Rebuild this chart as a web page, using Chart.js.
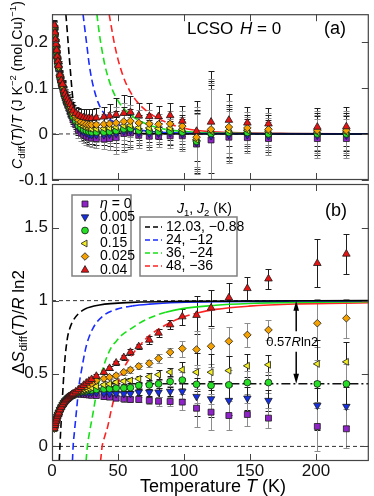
<!DOCTYPE html>
<html>
<head>
<meta charset="utf-8">
<script src="https://cdn.jsdelivr.net/npm/chart.js@4.4.1/dist/chart.umd.min.js"></script>
<style>
html, body { margin: 0; padding: 0; background: #fff; }
#wrap { position: relative; width: 374px; height: 496px; overflow: hidden; }
canvas { position: absolute; left: 0; }
#ca { top: 0; }
#cb { top: 168px; }
</style>
</head>
<body>
<div id="wrap">
  <canvas id="ca" width="374" height="200"></canvas>
  <canvas id="cb" width="374" height="328"></canvas>
</div>
<script>
// temperatures of the measured points (K)
const temps = [1.8, 2.2, 2.6, 3, 3.5, 4, 4.5, 5, 6, 7, 8, 9, 10, 11, 12, 13, 14, 15, 16,
  18, 20, 22, 24, 26, 28, 30, 33.6, 39.3, 43.6, 48.6, 54.4, 59.4, 65.7, 73.7, 80.7, 89.5, 98.7,
  109.5, 120.5, 134, 148, 164, 201, 223];

// (a) C_diff(T)/T  for eta = 0, 0.005, 0.01, 0.15, 0.025, 0.04
const cEta0 = [.230,.214,.200,.189,.176,.163,.152,.142,.123,.110,.101,.087,.078,.069,.062,.055,.048,.039,.031,
  .020,.008,.002,-.002,-.005,-.007,-.009,-.010,-.011,-.010,-.008,.001,.002,-.003,-.005,-.005,-.004,-.004,
  -.022,-.013,-.007,-.008,-.010,-.010,-.010];
const cEta005 = [.231,.215,.201,.190,.177,.164,.153,.143,.124,.111,.102,.088,.079,.071,.064,.057,.050,.042,.034,
  .024,.013,.008,.004,.002,-.001,-.002,-.002,-.002,-.001,.001,.006,.007,.002,.001,.001,.002,.000,
  -.019,-.004,-.002,-.002,-.004,-.003,-.003];
const cEta01 = [.232,.216,.202,.191,.178,.165,.154,.144,.125,.112,.103,.089,.081,.073,.066,.059,.053,.045,.037,
  .028,.018,.013,.009,.007,.005,.004,.004,.004,.005,.007,.011,.012,.007,.006,.005,.006,.004,
  -.016,.001,.003,.003,.000,.000,.000];
const cEta015 = [.233,.217,.203,.192,.179,.166,.155,.145,.126,.113,.104,.091,.083,.075,.069,.062,.056,.049,.041,
  .033,.024,.019,.016,.013,.012,.011,.011,.012,.013,.015,.018,.019,.014,.013,.012,.013,.010,
  -.012,.006,.007,.008,.006,.004,.004];
const cEta025 = [.234,.218,.204,.193,.180,.167,.156,.146,.127,.114,.105,.092,.085,.077,.071,.065,.059,.052,.045,
  .038,.030,.026,.023,.021,.020,.020,.020,.021,.022,.024,.027,.028,.024,.022,.021,.022,.017,
  -.007,.010,.015,.013,.010,.008,.008];
const cEta04 = [.236,.220,.205,.195,.182,.168,.158,.148,.128,.116,.108,.094,.087,.080,.075,.069,.064,.057,.050,
  .045,.041,.038,.036,.035,.034,.034,.035,.037,.039,.042,.045,.047,.040,.038,.038,.040,.028,
  .006,.026,.030,.024,.022,.015,.016];
const cErr = [.012,.012,.012,.012,.011,.011,.010,.010,.010,.010,.010,.010,.010,.010,.011,.011,.012,.012,.013,
  .014,.016,.017,.018,.019,.020,.020,.021,.022,.025,.035,.040,.035,.027,.030,.023,.027,.032,
  .065,.110,.056,.034,.035,.042,.042];

// (b) Delta S_diff(T)/R ln2
const sEta0 = [.124,.144,.159,.174,.189,.204,.217,.229,.251,.269,.285,.299,.311,.320,.329,.337,.344,.349,.352,
  .359,.360,.358,.357,.355,.353,.351,.349,.342,.338,.331,.326,.322,.322,.315,.310,.308,.304,
  .262,.235,.212,.219,.194,.137,.121];
const sEta005 = [.125,.145,.160,.175,.190,.205,.218,.230,.252,.270,.286,.300,.312,.321,.330,.338,.345,.350,.355,
  .366,.368,.369,.370,.370,.370,.370,.368,.364,.362,.361,.361,.362,.372,.372,.372,.377,.377,
  .342,.326,.315,.331,.315,.281,.274];
const sEta01 = [.125,.145,.160,.175,.190,.205,.218,.230,.252,.270,.286,.300,.312,.322,.331,.339,.346,.351,.356,
  .368,.372,.376,.379,.382,.385,.387,.390,.394,.396,.400,.401,.403,.418,.422,.429,.445,.455,
  .426,.418,.422,.438,.438,.429,.429];
const sEta015 = [.125,.145,.160,.175,.190,.205,.218,.230,.252,.270,.286,.300,.312,.322,.331,.339,.346,.352,.358,
  .370,.376,.382,.388,.393,.398,.403,.412,.423,.429,.440,.447,.452,.464,.479,.492,.510,.526,
  .509,.509,.520,.553,.560,.566,.580];
const sEta025 = [.125,.145,.160,.175,.190,.205,.218,.230,.252,.270,.286,.300,.313,.323,.332,.340,.347,.354,.360,
  .372,.383,.393,.403,.413,.422,.432,.452,.466,.475,.486,.509,.525,.550,.570,.603,.646,.671,
  .665,.687,.721,.765,.799,.845,.879];
const sEta04 = [.125,.145,.160,.175,.190,.205,.218,.230,.252,.270,.287,.301,.314,.325,.334,.342,.349,.356,.362,
  .375,.390,.405,.420,.435,.448,.460,.482,.509,.536,.573,.610,.646,.685,.730,.778,.835,.890,
  .900,.950,1.020,1.084,1.150,1.256,1.320];
const sErr = [.008,.008,.008,.008,.008,.008,.008,.008,.008,.008,.008,.008,.008,.008,.008,.008,.008,.008,.008,
  .010,.010,.010,.010,.010,.010,.010,.012,.014,.015,.016,.018,.020,.020,.025,.030,.030,.055,
  .130,.125,.100,.080,.070,.165,.135];

// J1-J2 model curves, panel (a)
const aBlackT = [10.5, 11.5, 12.3, 13, 14, 15, 16, 18, 20, 25, 30, 40, 60, 100, 240];
const aBlackV = [0.26, 0.225, 0.195, 0.17, 0.135, 0.1, 0.072, 0.042, 0.027, 0.011, 0.005, 0.002, 0.001, 0, 0];
const aBlueT = [23.5, 25, 26.5, 28, 30, 32.5, 35, 37.5, 42, 46, 53, 61, 73, 86, 110, 240];
const aBlueV = [0.26, 0.225, 0.19, 0.155, 0.12, 0.09, 0.068, 0.053, 0.036, 0.027, 0.017, 0.011, 0.006, 0.003, 0.001, 0];
const aGreenT = [34, 36, 38, 40, 43, 46, 50, 54, 61, 66, 74, 86, 111, 150, 240];
const aGreenV = [0.26, 0.215, 0.18, 0.15, 0.118, 0.094, 0.072, 0.056, 0.038, 0.029, 0.019, 0.01, 0.003, 0.001, 0];
const aRedT = [43.3, 45, 47, 50, 53, 56, 60, 65, 70, 75, 81, 90, 101, 120, 136, 180, 240];
const aRedV = [0.26, 0.232, 0.2, 0.162, 0.133, 0.11, 0.088, 0.068, 0.054, 0.043, 0.033, 0.021, 0.012, 0.005, 0.003, 0.001, 0];

// J1-J2 model curves, panel (b)
const bBlackT = [5.5, 6, 7, 8, 9, 10, 11, 12, 13.5, 16, 20, 25, 36, 61, 100, 240];
const bBlackV = [-0.1, 0, 0.18, 0.35, 0.5, 0.62, 0.7, 0.76, 0.81, 0.863, 0.91, 0.943, 0.97, 0.988, 0.995, 1.0];
const bBlueT = [15.5, 16, 17, 18.5, 20.5, 22.3, 26, 31, 38.6, 48.6, 61, 73.7, 96, 130, 180, 240];
const bBlueV = [-0.1, 0, 0.1, 0.24, 0.42, 0.52, 0.69, 0.81, 0.895, 0.94, 0.964, 0.976, 0.987, 0.993, 0.997, 0.999];
const bGreenT = [25.8, 26.8, 28.5, 31, 34, 38, 44.9, 48.6, 52.4, 58.6, 71.2, 86.2, 98.7, 124, 149, 184, 240];
const bGreenV = [-0.1, 0, 0.1, 0.224, 0.38, 0.52, 0.68, 0.72, 0.76, 0.8, 0.87, 0.92, 0.945, 0.968, 0.98, 0.988, 0.993];
const bRedT = [36.8, 38, 40, 42.3, 44.9, 48.6, 53.6, 60, 66.2, 73.7, 80, 88.7, 98.7, 110, 124, 149, 184, 240];
const bRedV = [-0.1, 0, 0.07, 0.14, 0.25, 0.384, 0.52, 0.62, 0.69, 0.76, 0.8, 0.845, 0.885, 0.915, 0.94, 0.962, 0.977, 0.985];
const dashUntil = [25, 55, 80, 100];   // model curves are dashed below these T

const etaLabels = ['0', '0.005', '0.01', '0.15', '0.025', '0.04'];
const jLabels = ['12.03, \u22120.88', '24, \u221212', '36, \u221224', '48, \u221236'];
const xTickLabels = [0, 50, 100, 150, 200];
const yTicksA = [-0.1, 0, 0.1, 0.2];
const yTicksB = [0, 0.5, 1, 1.5];
const refLinesB = [0, 1];
const plateau = 0.43, plateauFrom = 45;
const arrowT = 185, arrowUp = [0.79, 1.0], arrowDown = [0.65, 0.43];

const FONT = "'Liberation Sans Narrow', 'Liberation Sans', Arial, sans-serif";
Chart.defaults.font.family = FONT;
const TOP_B = 168;

const SER = [
  { color: '#8f22c8', style: 'rect', rot: 0, r: 4.2, err: '#8c8c8c' },
  { color: '#1530e6', style: 'triangle', rot: 180, r: 4.3, err: '#1e1e1e' },
  { color: '#25e025', style: 'circle', rot: 0, r: 3.4, err: '#8c8c8c' },
  { color: '#f2ee22', style: 'triangle', rot: 270, r: 4.0, err: '#1e1e1e' },
  { color: '#f5a200', style: 'rectRot', rot: 0, r: 3.8, err: '#8c8c8c' },
  { color: '#e81414', style: 'triangle', rot: 0, r: 4.4, err: '#1e1e1e' }
];
const LINECOL = ['#000000', '#1a2cff', '#18e018', '#ff2222'];

function rich(ctx, parts, x, y, size, align) {
  let w = 0;
  const items = parts.map(([t, s]) => {
    const small = s.includes('b') || s.includes('p');
    const fs = small ? size * 0.68 : size;
    const font = (s.includes('i') ? 'italic ' : '') + fs + 'px ' + FONT;
    ctx.font = font;
    const tw = ctx.measureText(t).width;
    w += tw;
    return { t, font, tw, dy: s.includes('b') ? size * 0.3 : s.includes('p') ? -size * 0.36 : 0 };
  });
  let cx = align === 'center' ? x - w / 2 : align === 'right' ? x - w : x;
  ctx.textBaseline = 'middle';
  ctx.textAlign = 'left';
  items.forEach(it => { ctx.font = it.font; ctx.fillText(it.t, cx, y + it.dy); cx += it.tw; });
}

function drawMark(ctx, style, rot, r, x, y) {
  ctx.beginPath();
  if (style === 'circle') ctx.arc(x, y, r, 0, Math.PI * 2);
  else if (style === 'rect') { const s = r * Math.SQRT1_2; ctx.rect(x - s, y - s, 2 * s, 2 * s); }
  else if (style === 'rectRot') { ctx.moveTo(x, y - r); ctx.lineTo(x + r, y); ctx.lineTo(x, y + r); ctx.lineTo(x - r, y); ctx.closePath(); }
  else {
    const a = rot * Math.PI / 180;
    for (let k = 0; k < 3; k++) {
      const b = a + k * 2 * Math.PI / 3;
      const px = x + Math.sin(b) * r, py = y - Math.cos(b) * r;
      if (k) ctx.lineTo(px, py); else ctx.moveTo(px, py);
    }
    ctx.closePath();
  }
  ctx.fill();
  ctx.stroke();
}

function isMaj(v, step) { return Math.abs(v / step - Math.round(v / step)) < 1e-6; }

function makeDecor(drawExtra, yMajor) {
  return {
    id: 'decor',
    beforeDatasetsDraw(chart) {
      const { ctx, chartArea: a, scales: { x, y } } = chart;
      ctx.save();
      ctx.beginPath();
      ctx.rect(a.left, a.top, a.right - a.left, a.bottom - a.top);
      ctx.clip();
      ctx.lineWidth = 1;
      chart.data.datasets.slice().reverse().forEach(ds => {
        if (!ds.err) return;
        ctx.strokeStyle = ds.errColor;
        ds.data.forEach((p, i) => {
          const e = ds.err[i];
          const px = Math.round(x.getPixelForValue(p.x)) + 0.5;
          const y1 = Math.round(y.getPixelForValue(p.y - e)) + 0.5;
          const y2 = Math.round(y.getPixelForValue(p.y + e)) + 0.5;
          ctx.beginPath();
          ctx.moveTo(px, y1); ctx.lineTo(px, y2);
          ctx.moveTo(px - 3, y1); ctx.lineTo(px + 3, y1);
          ctx.moveTo(px - 3, y2); ctx.lineTo(px + 3, y2);
          ctx.stroke();
        });
      });
      ctx.restore();
    },
    afterDatasetsDraw(chart) {
      const { ctx, chartArea: a, scales: { x, y } } = chart;
      ctx.save();
      ctx.strokeStyle = '#444';
      ctx.lineWidth = 1.2;
      ctx.strokeRect(a.left + 0.5, a.top + 0.5, a.right - a.left - 1, a.bottom - a.top - 1);
      ctx.lineWidth = 1;
      ctx.beginPath();
      x.ticks.forEach(t => {
        const p = Math.round(x.getPixelForValue(t.value)) + 0.5;
        const L = isMaj(t.value, 50) ? 7 : 4;
        ctx.moveTo(p, a.bottom); ctx.lineTo(p, a.bottom - L);
        ctx.moveTo(p, a.top); ctx.lineTo(p, a.top + L);
      });
      y.ticks.forEach(t => {
        const p = Math.round(y.getPixelForValue(t.value)) + 0.5;
        const L = isMaj(t.value, yMajor) ? 7 : 4;
        ctx.moveTo(a.left, p); ctx.lineTo(a.left + L, p);
        ctx.moveTo(a.right, p); ctx.lineTo(a.right - L, p);
      });
      ctx.stroke();
      ctx.restore();
      ctx.save();
      ctx.fillStyle = '#000';
      drawExtra(chart);
      ctx.restore();
    }
  };
}

function markerSets(vals, errs) {
  return vals.map((v, k) => ({
    data: temps.map((t, i) => ({ x: t, y: v[i] })),
    err: errs,
    errColor: SER[k].err,
    pointStyle: SER[k].style,
    rotation: SER[k].rot,
    pointRadius: SER[k].r,
    backgroundColor: SER[k].color,
    borderColor: '#1a1a1a',
    pointBorderWidth: 0.8,
    showLine: false,
    order: 6 - k
  }));
}

function curveSets(Ts, Vs) {
  return Ts.map((T, k) => ({
    data: T.map((t, i) => ({ x: t, y: Vs[k][i] })),
    showLine: true,
    pointRadius: 0,
    borderColor: LINECOL[k],
    borderWidth: 1.6,
    cubicInterpolationMode: 'monotone',
    segment: { borderDash: c => c.p0.parsed.x < dashUntil[k] ? [7, 4] : [] },
    order: 10 + k
  }));
}

function hline(v, from, dash, color, width) {
  return {
    data: [{ x: from, y: v }, { x: 240, y: v }],
    showLine: true, pointRadius: 0, borderColor: color, borderWidth: width,
    borderDash: dash, order: 20
  };
}

function makeChart(id, datasets, o) {
  return new Chart(document.getElementById(id), {
    type: 'scatter',
    data: { datasets },
    options: {
      responsive: false,
      animation: false,
      events: [],
      layout: { padding: { top: o.padTop, right: 2, left: 0, bottom: 0 } },
      plugins: { legend: { display: false }, tooltip: { enabled: false } },
      scales: {
        x: {
          type: 'linear', min: 0, max: 240,
          ticks: {
            stepSize: 10, autoSkip: false, maxRotation: 0, display: o.showX, padding: 0,
            color: '#111', font: { size: 17 },
            callback: v => xTickLabels.includes(v) ? String(v) : null
          },
          grid: { display: false, drawTicks: false },
          border: { display: false },
          afterFit: s => { s.height = o.xH; }
        },
        y: {
          type: 'linear', min: o.yMin, max: o.yMax,
          ticks: {
            stepSize: o.yStep, autoSkip: false, padding: 4, color: '#111', font: { size: 17 },
            callback: v => {
              const m = o.yLabels.find(l => Math.abs(l - v) < 1e-6);
              return m === undefined ? null : String(m);
            }
          },
          grid: { display: false, drawTicks: false },
          border: { display: false },
          afterFit: s => { s.width = 52; }
        }
      }
    },
    plugins: [makeDecor(o.draw, o.yMajor)]
  });
}

// panel (a)
makeChart('ca', [
  ...markerSets([cEta0, cEta005, cEta01, cEta015, cEta025, cEta04], cErr),
  ...curveSets([aBlackT, aBlueT, aGreenT, aRedT], [aBlackV, aBlueV, aGreenV, aRedV]),
  hline(0, 0, [4, 3], '#333', 1)
], {
  padTop: 1, xH: 20, showX: false, yMin: -0.1, yMax: 0.26, yStep: 0.02, yMajor: 0.1, yLabels: yTicksA,
  draw(chart) {
    const ctx = chart.ctx;
    rich(ctx, [['LCSO', 'n']], 187, 29, 17, 'left');
    rich(ctx, [['H', 'i'], [' = 0', 'n']], 240, 29, 17, 'left');
    rich(ctx, [['(a)', 'n']], 335, 29, 18, 'center');
    ctx.save();
    ctx.translate(18, 85);
    ctx.rotate(-Math.PI / 2);
    rich(ctx, [['C', 'i'], ['diff', 'b'], ['(', 'n'], ['T', 'i'], [')/', 'n'], ['T', 'i'], [' (J K', 'n'],
      ['\u22122', 'p'], [' (mol Cu)', 'n'], ['\u22121', 'p'], [')', 'n']], 0, 0, 14.2, 'center');
    ctx.restore();
  }
});

// panel (b)
makeChart('cb', [
  ...markerSets([sEta0, sEta005, sEta01, sEta015, sEta025, sEta04], sErr),
  ...curveSets([bBlackT, bBlueT, bGreenT, bRedT], [bBlackV, bBlueV, bGreenV, bRedV]),
  ...refLinesB.map(v => hline(v, 0, [4, 3], '#333', 1)),
  hline(plateau, plateauFrom, [9, 3, 2, 3], '#111', 1.4)
], {
  padTop: 16, xH: 35, showX: true, yMin: -0.1, yMax: 1.8, yStep: 0.1, yMajor: 0.5, yLabels: yTicksB,
  draw(chart) {
    const { ctx, scales: { x, y } } = chart;
    // arrows for 0.57 R ln2
    const ax = x.getPixelForValue(arrowT);
    ctx.strokeStyle = '#000';
    ctx.fillStyle = '#000';
    ctx.lineWidth = 1.5;
    [arrowUp, arrowDown].forEach(([v0, v1]) => {
      const y0 = y.getPixelForValue(v0), y1 = y.getPixelForValue(v1);
      const dir = Math.sign(y1 - y0);
      ctx.beginPath(); ctx.moveTo(ax, y0); ctx.lineTo(ax, y1 - dir * 8); ctx.stroke();
      ctx.beginPath(); ctx.moveTo(ax, y1); ctx.lineTo(ax - 2.8, y1 - dir * 10); ctx.lineTo(ax + 2.8, y1 - dir * 10);
      ctx.closePath(); ctx.fill();
    });
    rich(ctx, [['0.57', 'n'], ['R', 'i'], ['ln2', 'n']], x.getPixelForValue(182), y.getPixelForValue(0.715), 13, 'center');

    ctx.save();
    ctx.translate(0, -TOP_B);
    ctx.save();
    ctx.translate(19, 322);
    ctx.rotate(-Math.PI / 2);
    rich(ctx, [['\u0394', 'n'], ['S', 'i'], ['diff', 'b'], ['(', 'n'], ['T', 'i'], [')/', 'n'], ['R', 'i'], [' ln2', 'n']], 0, 0, 17, 'center');
    ctx.restore();
    rich(ctx, [['Temperature ', 'n'], ['T', 'i'], [' (K)', 'n']], 213, 487, 18, 'center');
    rich(ctx, [['(b)', 'n']], 336, 211, 18, 'center');

    // eta legend
    ctx.fillStyle = '#fff';
    ctx.fillRect(72, 195, 59, 81);
    ctx.strokeStyle = '#808080';
    ctx.lineWidth = 1.5;
    ctx.strokeRect(72, 195, 59, 81);
    const rows1 = [204, 217, 230.5, 243.5, 256.5, 270];
    SER.forEach((s, k) => {
      ctx.fillStyle = s.color;
      ctx.strokeStyle = '#1a1a1a';
      ctx.lineWidth = 0.8;
      drawMark(ctx, s.style, s.rot, s.r, 85, rows1[k]);
      ctx.fillStyle = '#000';
      rich(ctx, k === 0 ? [['\u03b7', 'i'], [' = ' + etaLabels[0], 'n']] : [[etaLabels[k], 'n']], 100, rows1[k], 14, 'left');
    });

    // J1, J2 legend
    ctx.fillStyle = '#000';
    rich(ctx, [['J', 'i'], ['1', 'b'], [', ', 'n'], ['J', 'i'], ['2', 'b'], [' (K)', 'n']], 177, 209, 14, 'left');
    ctx.fillStyle = '#fff';
    ctx.fillRect(140, 217, 97, 59);
    ctx.strokeStyle = '#808080';
    ctx.lineWidth = 1.5;
    ctx.strokeRect(140, 217, 97, 59);
    const rows2 = [227, 240, 253, 266];
    jLabels.forEach((lab, k) => {
      ctx.strokeStyle = LINECOL[k];
      ctx.lineWidth = 1.6;
      ctx.setLineDash([5, 3]);
      ctx.beginPath(); ctx.moveTo(145, rows2[k]); ctx.lineTo(162, rows2[k]); ctx.stroke();
      ctx.setLineDash([]);
      ctx.fillStyle = '#000';
      rich(ctx, [[lab, 'n']], 166, rows2[k], 14, 'left');
    });
    ctx.restore();
  }
});
</script>
</body>
</html>
